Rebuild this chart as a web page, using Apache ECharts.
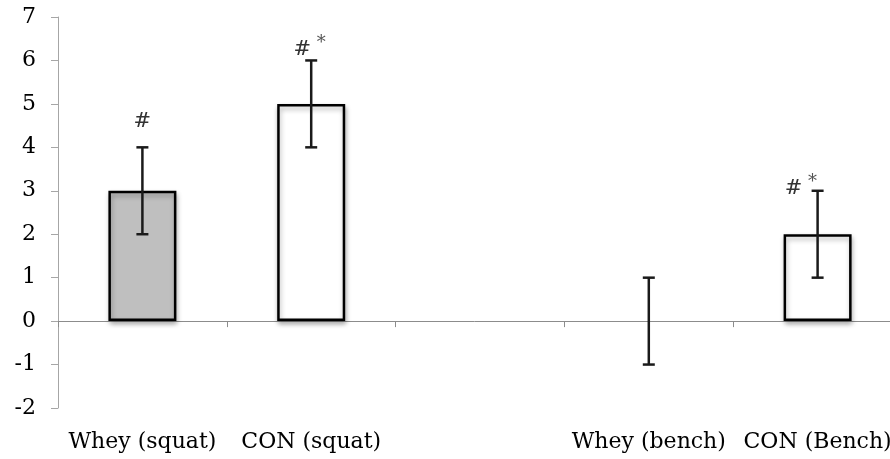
<!DOCTYPE html>
<html><head><meta charset="utf-8">
<script src="https://cdn.jsdelivr.net/npm/echarts@6/dist/echarts.min.js"></script>
<style>html,body{margin:0;padding:0;background:#fff}#c{width:890px;height:459px}</style>
</head><body><div id="c"></div>
<script>
// ---- data ----
const categories = ['Whey (squat)', 'CON (squat)', '', 'Whey (bench)', 'CON (Bench)'];
const barValues = [3, 5, null, 0, 2];
const errLow = [2, 4, null, -1, 1];
const errHigh = [4, 6, null, 1, 3];
const annotations = ['#', '#*', '', '', '#*'];
const annotationY = [4.6, 6.25, null, null, 3.05];
const yMin = -2, yMax = 7, yStep = 1;

// ---- styles ----
const barFills = ['#bfbfbf', '#ffffff', '#ffffff', '#ffffff', '#ffffff'];
const annotShift = [0, -9, 0, 0, -24];
const FONT = 'DejaVu Serif';

const chart = echarts.init(document.getElementById('c'), null, {renderer: 'canvas'});

const barData = barValues.map((v, i) => ({
  value: v,
  itemStyle: v === 0
    ? {color: 'rgba(0,0,0,0)', borderWidth: 0, shadowBlur: 0, shadowColor: 'rgba(0,0,0,0)'}
    : {color: barFills[i]}
}));
const errData = [];
categories.forEach((c, i) => { if (errLow[i] != null) errData.push([i, errLow[i], errHigh[i]]); });
const annData = [];
annotations.forEach((t, i) => { if (t) annData.push([i, annotationY[i], t, annotShift[i]]); });

chart.setOption({
  animation: false,
  grid: {left: 58, right: -12, top: 17, bottom: 51, containLabel: false, outerBoundsMode: 'none'},
  xAxis: [{
    type: 'category',
    data: categories,
    axisLine: {onZero: true, lineStyle: {color: '#8c8c8c', width: 1}},
    axisTick: {show: true, inside: false, length: 6, lineStyle: {color: '#8c8c8c'}},
    axisLabel: {show: false},
    splitLine: {show: false}
  }, {
    type: 'category',
    data: categories,
    position: 'bottom',
    axisLine: {show: false, onZero: false},
    axisTick: {show: false},
    axisLabel: {show: true, margin: 23, color: '#000', fontFamily: FONT, fontSize: 22, interval: 0},
    splitLine: {show: false}
  }],
  yAxis: {
    type: 'value',
    min: yMin, max: yMax, interval: yStep,
    axisLine: {show: true, lineStyle: {color: '#a6a6a6', width: 1}},
    axisTick: {show: true, length: 7, lineStyle: {color: '#a6a6a6'}},
    axisLabel: {margin: 22, color: '#000', fontFamily: FONT, fontSize: 22},
    splitLine: {show: false}
  },
  series: [
    {
      type: 'bar',
      data: barData,
      barWidth: 68,
      itemStyle: {borderColor: '#000', borderWidth: 2.5,
        shadowColor: 'rgba(0,0,0,0.3)', shadowBlur: 5, shadowOffsetX: 1, shadowOffsetY: 3}
    },
    {
      type: 'custom',
      data: errData,
      z: 5,
      encode: {x: 0, y: [1, 2]},
      renderItem(params, api) {
        const i = api.value(0);
        const lo = api.coord([i, api.value(1)]);
        const hi = api.coord([i, api.value(2)]);
        const cap = 6;
        const st = {stroke: '#1a1a1a', lineWidth: 2.5};
        return {type: 'group', children: [
          {type: 'line', shape: {x1: lo[0], y1: lo[1], x2: hi[0], y2: hi[1]}, style: st},
          {type: 'line', shape: {x1: lo[0]-cap, y1: lo[1], x2: lo[0]+cap, y2: lo[1]}, style: st},
          {type: 'line', shape: {x1: hi[0]-cap, y1: hi[1], x2: hi[0]+cap, y2: hi[1]}, style: st}
        ]};
      }
    },
    {
      type: 'custom',
      data: annData,
      z: 6,
      encode: {x: 0, y: 1},
      renderItem(params, api) {
        const i = api.value(0);
        const p = api.coord([i, api.value(1)]);
        const txt = annData[params.dataIndex][2];
        const dx = annData[params.dataIndex][3];
        const children = [{type: 'text', x: p[0] + dx, y: p[1],
          style: {text: '#', fill: '#333', font: '21px "' + FONT + '"', align: 'center', verticalAlign: 'middle'}}];
        if (txt.length > 1) {
          children.push({type: 'text', x: p[0] + dx + 19, y: p[1] - 6,
            style: {text: '*', fill: '#555', font: '18px "' + FONT + '"', align: 'center', verticalAlign: 'middle'}});
        }
        return {type: 'group', children};
      }
    }
  ]
});
</script>
</body></html>
